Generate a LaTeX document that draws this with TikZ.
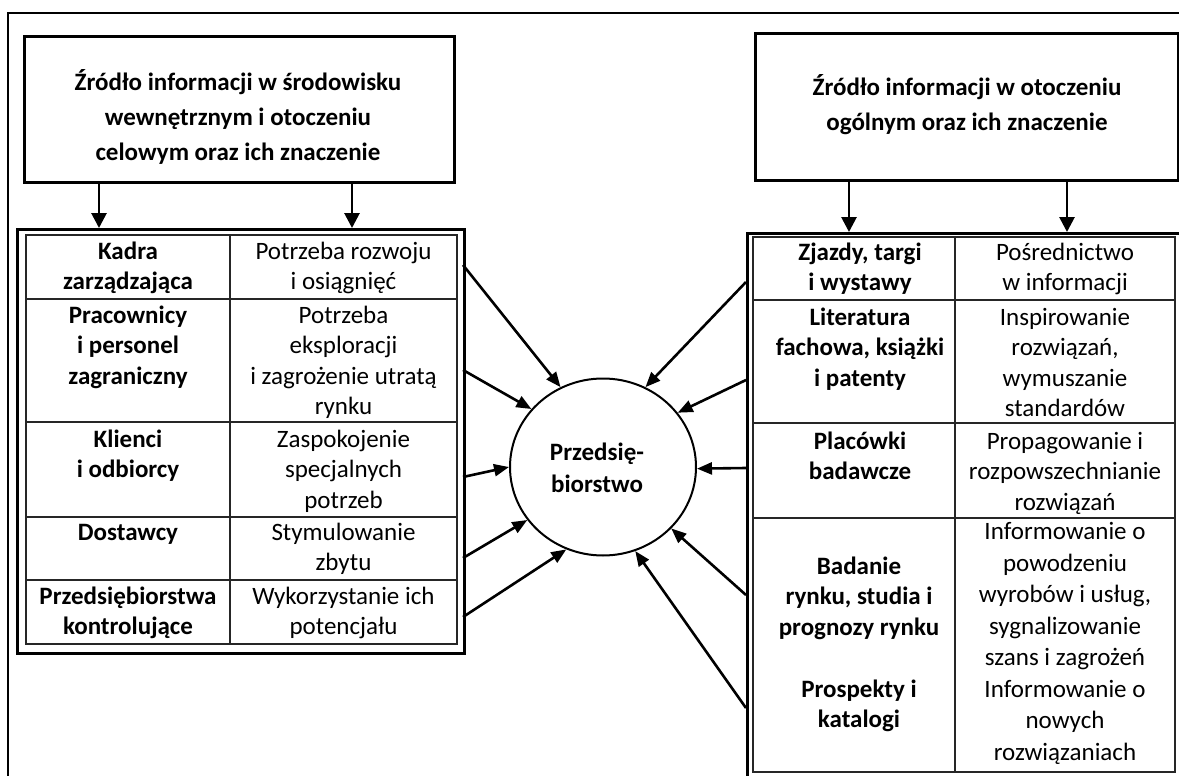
\documentclass[tikz,border=0pt]{standalone}
\usepackage{fontspec}
\setmainfont{Carlito}
\usetikzlibrary{arrows.meta,shapes.geometric}

\begin{document}
\begin{tikzpicture}[x=1pt,y=-1pt,
  frame/.style={line width=2.2pt},
  hbox/.style={draw,line width=2.8pt,anchor=north west,inner sep=0pt},
  tframe/.style={draw,line width=2.8pt,anchor=north west,inner sep=0pt},
  grid/.style={line width=1.8pt,draw=black!85},
  down/.style={line width=2.8pt,-{Triangle[length=15pt,width=15pt]}},
  feed/.style={line width=2.6pt,-{Triangle[length=15pt,width=12pt]}},
  % text nodes are placed by the baseline of their last line
  cell/.style={anchor=base,align=center,inner sep=0pt,font=\fontsize{25}{30.5}\selectfont},
  bcell/.style={cell,font=\fontsize{25}{30.5}\selectfont\bfseries},
  head/.style={anchor=base,align=center,inner sep=0pt,font=\fontsize{25}{35}\selectfont\bfseries},
]
\clip (0,0) rectangle (1179,776);
\fill[white] (0,0) rectangle (1179,776);

% outer frame
\draw[frame] (8,13) rectangle (1192,792);

% heading boxes
\node[hbox,minimum width=430pt,minimum height=146pt] (lbox) at (23,35) {};
\node[head] (ltxt) at (238,160) {Źródło informacji w środowisku\\wewnętrznym i otoczeniu\\celowym oraz ich znaczenie};
\node[hbox,minimum width=423pt,minimum height=147pt] (rbox) at (754,32) {};
\node[head] (rtxt) at (967,130) {Źródło informacji w otoczeniu\\ogólnym oraz ich znaczenie};

% left table
\node[tframe,minimum width=447pt,minimum height=424pt] (ltab) at (16,228) {};
\draw[grid] (26,235) rectangle (457,644);
\draw[grid] (230,235) -- (230,644);
\foreach \y in {299,422,517,580} \draw[grid] (26,\y) -- (457,\y);

\node[bcell] (lk1) at (128,289.5) {Kadra\\zarządzająca};
\node[cell]  (lv1) at (343.5,289.5) {Potrzeba rozwoju\\i osiągnięć};
\node[bcell] (lk2) at (128,384) {Pracownicy\\i personel\\zagraniczny};
\node[cell]  (lv2) at (343.5,414.5) {Potrzeba\\eksploracji\\i zagrożenie utratą\\rynku};
\node[bcell] (lk3) at (128,477.5) {Klienci\\i odbiorcy};
\node[cell]  (lv3) at (343.5,508) {Zaspokojenie\\specjalnych\\potrzeb};
\node[bcell] (lk4) at (128,540) {Dostawcy};
\node[cell]  (lv4) at (343.5,570.5) {Stymulowanie\\zbytu};
\node[bcell] (lk5) at (128,634.5) {Przedsiębiorstwa\\kontrolujące};
\node[cell]  (lv5) at (343.5,634.5) {Wykorzystanie ich\\potencjału};

% right table
\node[tframe,minimum width=433pt,minimum height=546pt] (rtab) at (746,232) {};
\draw[grid] (753,237) rectangle (1175,772);
\draw[grid] (955,237) -- (955,772);
\foreach \y in {300,423,518} \draw[grid] (753,\y) -- (1175,\y);

\node[bcell] (rk1) at (860,290.5) {Zjazdy, targi\\i wystawy};
\node[cell]  (rv1) at (1065,290.5) {Pośrednictwo\\w informacji};
\node[bcell] (rk2) at (860,386) {Literatura\\fachowa, książki\\i patenty};
\node[cell]  (rv2) at (1065,416.5) {Inspirowanie\\rozwiązań,\\wymuszanie\\standardów};
\node[bcell] (rk3) at (860,479.5) {Placówki\\badawcze};
\node[cell]  (rv3) at (1065,510) {Propagowanie i\\rozpowszechnianie\\rozwiązań};
\node[bcell] (rk4) at (859,635) {Badanie\\rynku, studia i\\prognozy rynku};
\node[bcell] (rk5) at (859,727.5) {Prospekty i\\katalogi};
\node[cell,font=\fontsize{25}{31.5}\selectfont] (rv4) at (1065,760) {Informowanie o\\powodzeniu\\wyrobów i usług,\\sygnalizowanie\\szans i zagrożeń\\Informowanie o\\nowych\\rozwiązaniach};

% arrows from the headings into the tables
\coordinate (xa) at (99,0);
\coordinate (xb) at (352,0);
\coordinate (xc) at (849,0);
\coordinate (xd) at (1067,0);
\draw[down] (lbox.south -| xa) -- (ltab.north -| xa);
\draw[down] (lbox.south -| xb) -- (ltab.north -| xb);
\draw[down] (rbox.south -| xc) -- (rtab.north -| xc);
\draw[down] (rbox.south -| xd) -- (rtab.north -| xd);

% the enterprise
\node[draw,ellipse,line width=2pt,minimum width=186pt,minimum height=177pt,inner sep=0pt] (firm) at (603,467) {};
\node[anchor=base,align=center,inner sep=0pt,font=\fontsize{25}{32}\selectfont\bfseries] (firmtxt) at (597,492) {Przedsię-\\biorstwo};

% influences flowing into the enterprise
\coordinate (l1) at (463,265);
\coordinate (l2) at (463,370);
\coordinate (l3) at (463,477);
\coordinate (l4) at (463,558);
\coordinate (l5) at (463,617);
\coordinate (r1) at (746,282);
\coordinate (r2) at (746,380);
\coordinate (r3) at (746,468);
\coordinate (r4) at (746,595);
\coordinate (r5) at (746,708);
\draw[feed] (l1) -- (firm.118.6);
\draw[feed] (l2) -- (firm.141.8);
\draw[feed] (l3) -- (firm.180);
\draw[feed] (l4) -- (firm.215.2);
\draw[feed] (l5) -- (firm.246.6);
\draw[feed] (r1) -- (firm.62.9);
\draw[feed] (r2) -- (firm.36.1);
\draw[feed] (r3) -- (firm.-1.8);
\draw[feed] (r4) -- (firm.-42);
\draw[feed] (r5) -- (firm.-69.6);
\end{tikzpicture}
\end{document}
